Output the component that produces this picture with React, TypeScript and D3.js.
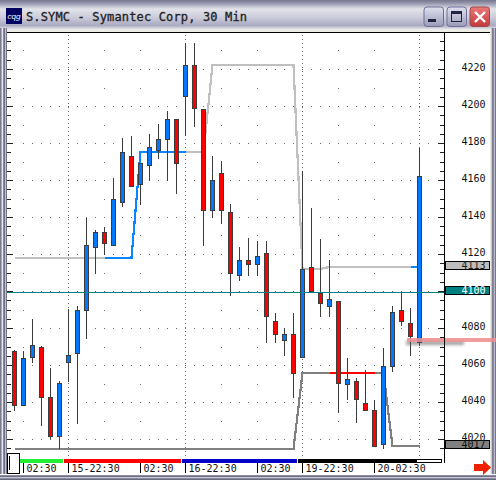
import React from "react";
import * as d3 from "d3";

const highs = [4068.6,4067.7,4085.4,4070.8,4058.5,4051.5,4090.8,4092.1,4140,4133,4135.1,4161.1,4183.2,4184.3,4169.2,4184.9,4190.4,4197.5,4193,4234.1,4234.1,4198.4,4173.1,4170.4,4147.2,4123.9,4128.8,4127.2,4127.2,4088.6,4080.5,4088.6,4165,4144.9,4128.6,4116.8,4094.6,4064.3,4053.5,4057.3,4041.6,4069.7,4092.4,4099.5,4091,4177.8];
const lows = [4035.5,4038.2,4061.4,4027.2,4020.5,4014.8,4051.1,4028.3,4074.4,4109.4,4120,4124.9,4145.7,4156.8,4146.8,4159.8,4171.7,4159.8,4152.8,4184.3,4189,4124.6,4139.8,4136.5,4097.6,4105.7,4108.4,4108.4,4072.2,4072.2,4065.2,4042.5,4064.3,4099.8,4086.3,4086.3,4034.4,4041.6,4029,4035.7,4016.2,4015.1,4056.5,4081.4,4065.2,4070.4];
const bodyTops = [4067.7,4063.8,4070.8,4069.7,4042.7,4050.3,4065.4,4089.7,4124.9,4131.9,4131.9,4149.7,4175.1,4173,4169.2,4177.8,4182.2,4193,4193,4222.2,4222.2,4198.4,4160,4163.8,4142.7,4116.8,4116.8,4118.9,4120.5,4083.8,4076.8,4076.8,4111.9,4113,4098.9,4095.7,4094.6,4052.4,4051.4,4039.5,4035.7,4059.5,4088.6,4089.7,4082.7,4162.2];
const bodyBottoms = [4038.2,4038.2,4064.3,4042.7,4021.6,4021.6,4061.6,4066.5,4089.7,4123.8,4125.9,4124.9,4148.1,4156.8,4157.6,4167.9,4176,4181.9,4169,4205.2,4198.7,4143.9,4143.9,4143.9,4109.7,4108.4,4114.6,4114.6,4086.5,4076.8,4073.5,4055.7,4064.3,4099.8,4093.5,4091.9,4050.3,4049.7,4041.6,4035.7,4016.2,4017.3,4059.5,4083.8,4075.5,4072.4];
const candleUp = [0,1,1,0,0,1,1,1,1,1,0,1,1,0,1,1,1,1,0,1,0,0,1,0,0,1,0,1,0,0,1,0,1,0,0,1,0,1,0,0,0,1,1,0,0,1];

const upperLine = [4118.2,4118.2,4118.2,4118.2,4118.2,4118.2,4118.2,4118.2,4118.2,4118.2,4118.2,4118.2,4118.2,4118.2,4175.3,4175.3,4175.3,4175.3,4175.3,4175.3,4175.3,4175.3,4222.5,4222.5,4222.5,4222.5,4222.5,4222.5,4222.5,4222.5,4222.5,4222.5,4112.1,4112.1,4112.1,4113.3,4113.3,4113.3,4113.3,4113.3,4113.3,4113.3,4113.3,4113.3,4113.3,4113.3];
const lowerLine = [4014.8,4014.8,4014.8,4014.8,4014.8,4014.8,4014.8,4014.8,4014.8,4014.8,4014.8,4014.8,4014.8,4014.8,4014.8,4014.8,4014.8,4014.8,4014.8,4014.8,4014.8,4014.8,4014.8,4014.8,4014.8,4014.8,4014.8,4014.8,4014.8,4014.8,4014.8,4014.8,4056,4056,4056,4056,4056,4056,4056,4056,4056,4056,4016.4,4016.4,4016.4,4016.4];
const upperRuns: [number, number, string][] = [[0,10,"#c0c0c0"],[10,19,"#0a84ff"],[19,44,"#c0c0c0"],[44,45,"#0a84ff"]];
const lowerRuns: [number, number, string][] = [[0,35,"#808080"],[35,40,"#ff0000"],[40,45,"#808080"]];

const priceLabels = [4220,4200,4180,4160,4140,4120,4080,4060,4040,4020];
const timeLabels = ["02:30","15-22:30","02:30","16-22:30","02:30","19-22:30","20-02:30"];
const timeIndex = [1,6,14,19,27,32,40];
const dayIndex = [6,19,32,45];
const sessionDotIndex = [1,10,14,23,27,36,40];
const sessions: [number, number, string][] = [[0.6,5.4,"#22ee33"],[5.5,18.5,"#ff0000"],[18.6,31.4,"#0000c8"],[31.5,44.7,"#000000"]];
const badges: [number, string, string, string][] = [[4113,"#bdbdbd","#222222","b"],[4100,"#008080","#ffffff","t"],[4017,"#808080","#111111","g"]];
const title = "S.SYMC - Symantec Corp, 30 Min";

const W = 496, H = 480;
const x = d3.scaleLinear().domain([0, 45]).range([14.5, 419.5]);
const y = d3.scaleLinear().domain([4220, 4020]).range([69.5, 439.5]);
const plotL = 7, plotR = 444, plotT = 33, plotB = 453;
const mono = "'DejaVu Sans Mono','Liberation Mono',monospace";

function runPath(values: number[], from: number, to: number) {
  const pts: [number, number][] = d3.range(from, to + 1).map((i) => [x(i), y(values[i])]);
  return d3.line()(pts) ?? "";
}

export default function App() {
  const tickValues = d3.range(4015, 4241, 5);
  const majorLevels = d3.range(4020, 4240, 20);
  const oddLevels = d3.range(4030, 4240, 20);
  const dotIndex = d3.range(1, 47);
  return (
    <svg width={W} height={H} style={{ position: "fixed", left: 0, top: 0, display: "block" }} xmlns="http://www.w3.org/2000/svg">
      <defs>
        <linearGradient id="tb" x1="0" x2="0" y1="0" y2="1">
          <stop offset="0" stopColor="#77778c" />
          <stop offset="0.08" stopColor="#8c8ca4" />
          <stop offset="0.3" stopColor="#e2e2ea" />
          <stop offset="0.55" stopColor="#cfcfdc" />
          <stop offset="0.85" stopColor="#aaaac2" />
          <stop offset="1" stopColor="#f2f2f2" />
        </linearGradient>
        <linearGradient id="btn" x1="0" x2="0" y1="0" y2="1">
          <stop offset="0" stopColor="#dfe0ee" />
          <stop offset="1" stopColor="#9a9ab8" />
        </linearGradient>
        <linearGradient id="cl" x1="0" x2="0" y1="0" y2="1">
          <stop offset="0" stopColor="#ec7a78" />
          <stop offset="1" stopColor="#c03a3a" />
        </linearGradient>
        <filter id="blur" x="-10%" y="-200%" width="120%" height="500%">
          <feGaussianBlur stdDeviation="1.6" />
        </filter>
      </defs>

      {/* window frame */}
      <rect width={W} height={H} fill="#ecebe4" />
      <rect width={W} height={30} fill="url(#tb)" />
      {[[0,"#7c7c90"],[1,"#a8a8bc"],[2,"#e8e8ee"],[3,"#8a8aa0"],[4,"#6e6e86"],[5,"#c0c0d0"],[6,"#77778c"]].map(([px, c]) => (
        <rect key={`l${px}`} x={px as number} y={28} width={1} height={H - 28} fill={c as string} />
      ))}
      {[[491,"#c8c8d4"],[492,"#7c7c94"],[493,"#8a8aa0"],[494,"#b8b8c8"],[495,"#77778c"]].map(([px, c]) => (
        <rect key={`r${px}`} x={px as number} y={28} width={1} height={H - 28} fill={c as string} />
      ))}
      {[[474,"#ffffff"],[475,"#8a8aa0"],[476,"#6e6e86"],[477,"#c8c8d4"],[478,"#8a8aa0"],[479,"#6a6a7e"]].map(([py, c]) => (
        <rect key={`b${py}`} x={0} y={py as number} width={W} height={1} fill={c as string} />
      ))}

      {/* title bar */}
      <rect x={6} y={8} width={16} height={16} fill="#000060" />
      <text x={14} y={18.5} fontSize={8} fontFamily="'Liberation Sans',sans-serif" fontStyle="italic" fill="#ffffff" textAnchor="middle">cqg</text>
      <text x={26} y={21} fontSize={12} fontFamily={mono} letterSpacing={0.15} fill="#222222" stroke="#222222" strokeWidth={0.3}>{title}</text>
      <rect x={424} y={7} width={19.5} height={19.5} rx={3} fill="url(#btn)" stroke="#6f6f98" />
      <rect x={428} y={19} width={8} height={3} fill="#1f2440" />
      <rect x={447} y={7} width={19.5} height={19.5} rx={3} fill="url(#btn)" stroke="#6f6f98" />
      <rect x={451.5} y={11.5} width={10} height={10} fill="none" stroke="#1f2440" />
      <rect x={451} y={11} width={11} height={3} fill="#1f2440" />
      <rect x={470} y={7} width={19.5} height={19.5} rx={3} fill="url(#cl)" stroke="#a04848" />
      <path d="M475 12 L485 22 M485 12 L475 22" stroke="#ffffff" strokeWidth={2.4} />

      {/* plot panel */}
      <rect x={plotL} y={32} width={483} height={442} fill="#ffffff" />
      <rect x={plotL} y={32} width={483} height={1} fill="#000000" />

      {/* grid dots */}
      <g fill="#666666" shapeRendering="crispEdges">
        {majorLevels.flatMap((lv) =>
          dotIndex.map((i) => <rect key={`m${lv}-${i}`} x={Math.floor(x(i))} y={Math.floor(y(lv))} width={1} height={1} />)
        )}
        {oddLevels.flatMap((lv) =>
          sessionDotIndex.map((i) => <rect key={`o${lv}-${i}`} x={Math.floor(x(i))} y={Math.floor(y(lv))} width={1} height={1} />)
        )}
        {dayIndex.flatMap((i) =>
          d3.range(plotT + 2, plotB + 3, 4).map((py) => <rect key={`v${i}-${py}`} x={Math.floor(x(i))} y={py} width={1} height={1} />)
        )}
      </g>

      {/* price ticks */}
      <g stroke="#222222" shapeRendering="crispEdges">
        {tickValues.filter((v) => y(v) > plotT && y(v) < plotB).map((v) => {
          const len = v % 20 === 0 ? 6 : 4;
          const py = Math.floor(y(v)) + 0.5;
          return (
            <g key={v}>
              <line x1={plotL} x2={plotL + len} y1={py} y2={py} />
              <line x1={plotR - len} x2={plotR} y1={py} y2={py} />
            </g>
          );
        })}
      </g>

      {/* envelope lines */}
      <g fill="none" strokeWidth={2.2} shapeRendering="crispEdges">
        {upperRuns.map(([a, b, c]) => <path key={`u${a}`} d={runPath(upperLine, a, b)} stroke={c} />)}
        {lowerRuns.map(([a, b, c]) => <path key={`d${a}`} d={runPath(lowerLine, a, b)} stroke={c} />)}
      </g>

      {/* candles */}
      <g shapeRendering="crispEdges">
        {highs.map((h, i) => {
          const cx = x(i);
          return (
            <g key={i}>
              <line x1={cx} x2={cx} y1={y(h)} y2={y(lows[i])} stroke="#3c3c3c" />
              <rect
                x={cx - 2}
                y={y(bodyTops[i])}
                width={4}
                height={Math.max(y(bodyBottoms[i]) - y(bodyTops[i]), 1)}
                fill={candleUp[i] ? "#0078ff" : "#ff0000"}
                stroke="#3c3c3c"
              />
            </g>
          );
        })}
      </g>

      {/* last-price line */}
      <rect x={plotL} y={292} width={plotR - plotL} height={1} fill="#008080" />

      {/* alert line */}
      <rect x={406} y={341} width={58} height={4} fill="#555555" opacity={0.55} filter="url(#blur)" />
      <rect x={407} y={338} width={89} height={4} fill="#f08c8c" opacity={0.85} />

      {/* price labels */}
      <g fontFamily={mono} fontSize={10} fill="#111111" textAnchor="start">
        {priceLabels.map((p) => <text key={p} x={461.5} y={y(p) + 1.5}>{p}</text>)}
      </g>
      {badges.map(([v, bg, fg, k]) => {
        const cy = k === "t" ? 290 : k === "b" ? 265.5 : 444;
        return (
          <g key={k}>
            <rect x={445.5} y={cy - 4} width={44} height={8} fill={bg} stroke="#000000" shapeRendering="crispEdges" />
            <text x={461.5} y={cy + 3.5} fontFamily={mono} fontSize={10} fill={fg}>{v}</text>
          </g>
        );
      })}

      {/* session strip */}
      <rect x={7} y={453} width={12} height={20} fill="#ffffff" stroke="#000000" shapeRendering="crispEdges" />
      <line x1={9.5} x2={9.5} y1={456} y2={470} stroke="#000000" />
      <g shapeRendering="crispEdges">
        {sessions.map(([a, b, c]) => <rect key={a} x={x(a)} y={459} width={x(b) - x(a)} height={4} fill={c} />)}
        <rect x={x(44.7)} y={459.5} width={441 - x(44.7)} height={3} fill="#ffffff" stroke="#000000" />
        <rect x={444} y={32} width={1} height={431} fill="#000000" />
      </g>
      {timeLabels.map((t, j) => (
        <g key={j}>
          <line x1={x(timeIndex[j])} x2={x(timeIndex[j])} y1={463} y2={473} stroke="#000000" shapeRendering="crispEdges" />
          <text x={x(timeIndex[j]) + 3} y={471.5} fontFamily={mono} fontSize={10} fill="#111111">{t}</text>
        </g>
      ))}

      {/* scroll arrow */}
      <path d="M474 464 H483 V460 L491 467.5 L483 475 V471 H474 Z" fill="#ee2200" />
    </svg>
  );
}
